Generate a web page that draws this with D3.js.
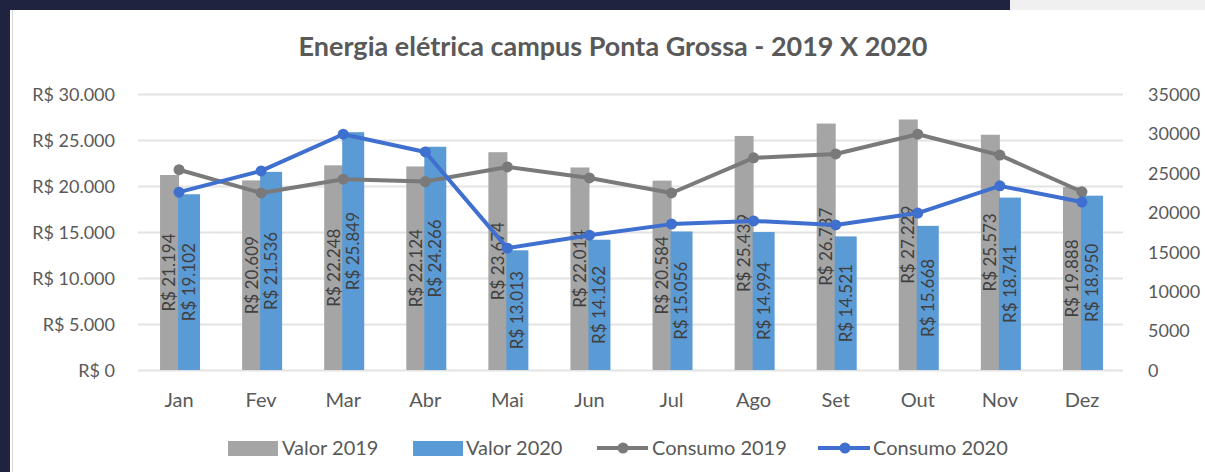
<!DOCTYPE html>
<html>
<head>
<meta charset="utf-8">
<script src="https://cdn.jsdelivr.net/npm/d3@7"></script>
<style>
  body { margin: 0; background: #fff; }
  text { font-family: Lato, "Open Sans", sans-serif; }
</style>
</head>
<body>
<div id="chart"></div>
<script>
let width = 1205,
    height = 472,
    margin = ({ top: 94, right: 82, bottom: 102, left: 138 });

const months = ["Jan", "Fev", "Mar", "Abr", "Mai", "Jun", "Jul", "Ago", "Set", "Out", "Nov", "Dez"];
const valor2019 = [21194, 20609, 22248, 22124, 23674, 22014, 20584, 25439, 26787, 27229, 25573, 19888];
const valor2020 = [19102, 21536, 25849, 24266, 13013, 14162, 15056, 14994, 14521, 15668, 18741, 18950];
const consumo2019 = [25400, 22450, 24200, 23900, 25750, 24350, 22450, 26900, 27400, 29900, 27250, 22600];
const consumo2020 = [22550, 25250, 29900, 27650, 15450, 17100, 18500, 18900, 18400, 19900, 23350, 21300];
const leftTicks = [0, 5000, 10000, 15000, 20000, 25000, 30000];
const rightTicks = [0, 5000, 10000, 15000, 20000, 25000, 30000, 35000];

const br = d3.formatLocale({ decimal: ",", thousands: ".", grouping: [3], currency: ["R$ ", ""] });
const fmtR = br.format("$,");

const svg = d3.select("#chart")
  .append("svg")
  .attr("width", width)
  .attr("height", height);

// page background around the chart
svg.append("rect").attr("width", width).attr("height", height).attr("fill", "#20233f");
svg.append("rect").attr("x", 1010).attr("y", 0).attr("width", 195).attr("height", 10).attr("fill", "#f0f0f0");
svg.append("rect").attr("x", 10).attr("y", 10).attr("width", 1195).attr("height", 462).attr("fill", "#fff");
svg.append("line").attr("x1", 12.5).attr("x2", 12.5).attr("y1", 10).attr("y2", 472).attr("stroke", "#d8d8d8");

const x = d3.scaleBand()
  .domain(months)
  .range([margin.left, width - margin.right]);

const y = d3.scaleLinear()
  .domain([0, 30000])
  .range([height - margin.bottom, margin.top]);

const y2 = d3.scaleLinear()
  .domain([0, 35000])
  .range([height - margin.bottom, margin.top]);

// grid
svg.append("g")
  .attr("class", "grid")
  .attr("transform", `translate(${margin.left},0)`)
  .call(d3.axisLeft(y).tickValues(leftTicks).tickSize(-(width - margin.left - margin.right)).tickFormat(""))
  .call(g => g.select(".domain").remove())
  .call(g => g.selectAll("line").attr("stroke", "#e3e3e3").attr("stroke-width", 2));

svg.append("g")
  .attr("transform", `translate(${margin.left - 20},0)`)
  .call(d3.axisLeft(y).tickValues(leftTicks).tickSize(0).tickFormat(fmtR))
  .call(g => g.select(".domain").remove())
  .call(g => g.selectAll("text").attr("fill", "#595959").style("font-size", "18px").attr("dy", "0.35em"));

svg.append("g")
  .attr("transform", `translate(${width - margin.right + 22},0)`)
  .call(d3.axisRight(y2).tickValues(rightTicks).tickSize(0).tickFormat(d3.format("d")))
  .call(g => g.select(".domain").remove())
  .call(g => g.selectAll("text").attr("fill", "#595959").style("font-size", "18px").attr("dy", "0.35em"));

svg.append("g")
  .attr("transform", `translate(0,${height - margin.bottom + 20})`)
  .call(d3.axisBottom(x).tickSize(0))
  .call(g => g.select(".domain").remove())
  .call(g => g.selectAll("text").attr("fill", "#595959").style("font-size", "20px"));

const data = months.map((m, i) => ({ m, v19: valor2019[i], v20: valor2020[i], c19: consumo2019[i], c20: consumo2020[i] }));
const c = d => x(d.m) + x.bandwidth() / 2;

// bars
svg.append("g").selectAll("rect")
  .data(data)
  .join("rect")
  .attr("x", d => c(d) - 19)
  .attr("width", 19)
  .attr("y", d => y(d.v19))
  .attr("height", d => y(0) - y(d.v19))
  .attr("fill", "#a5a5a5");

svg.append("g").selectAll("rect")
  .data(data)
  .join("rect")
  .attr("x", d => c(d) - 1)
  .attr("width", 22)
  .attr("y", d => y(d.v20))
  .attr("height", d => y(0) - y(d.v20))
  .attr("fill", "#5b9bd5");

// bar labels, rotated, centered in bar
svg.append("g").selectAll("text")
  .data(data)
  .join("text")
  .attr("transform", d => `translate(${c(d) - 9.5},${(y(d.v19) + y(0)) / 2}) rotate(-90)`)
  .attr("text-anchor", "middle")
  .attr("dy", "0.35em")
  .attr("fill", "#404040")
  .style("font-size", "17px")
  .text(d => fmtR(d.v19));

svg.append("g").selectAll("text")
  .data(data)
  .join("text")
  .attr("transform", d => `translate(${c(d) + 10},${(y(d.v20) + y(0)) / 2}) rotate(-90)`)
  .attr("text-anchor", "middle")
  .attr("dy", "0.35em")
  .attr("fill", "#404040")
  .style("font-size", "17px")
  .text(d => fmtR(d.v20));

// lines
const series = [
  { key: "c19", color: "#7a7a7a" },
  { key: "c20", color: "#3f6fcf" }
];
for (let s of series) {
  svg.append("path")
    .datum(data)
    .attr("fill", "none")
    .attr("stroke", s.color)
    .attr("stroke-width", 4)
    .attr("stroke-linejoin", "round")
    .attr("d", d3.line().x(c).y(d => y2(d[s.key])));
  svg.append("g").selectAll("circle")
    .data(data)
    .join("circle")
    .attr("cx", c)
    .attr("cy", d => y2(d[s.key]))
    .attr("r", 5.5)
    .attr("fill", s.color);
}

// title
svg.append("text")
  .attr("x", 613)
  .attr("y", 56)
  .attr("text-anchor", "middle")
  .attr("fill", "#595959")
  .style("font-size", "27px")
  .style("font-weight", "bold")
  .text("Energia elétrica campus Ponta Grossa - 2019 X 2020");

// legend
const legY = 448;
const leg = svg.append("g").style("font-size", "20px");
leg.append("rect").attr("x", 228).attr("y", legY - 7).attr("width", 50).attr("height", 15).attr("fill", "#a5a5a5");
leg.append("text").attr("x", 282).attr("y", legY).attr("dy", "0.35em").attr("fill", "#595959").text("Valor 2019");
leg.append("rect").attr("x", 413).attr("y", legY - 7).attr("width", 50).attr("height", 15).attr("fill", "#5b9bd5");
leg.append("text").attr("x", 466).attr("y", legY).attr("dy", "0.35em").attr("fill", "#595959").text("Valor 2020");
leg.append("line").attr("x1", 597).attr("x2", 648).attr("y1", legY).attr("y2", legY).attr("stroke", "#7a7a7a").attr("stroke-width", 4);
leg.append("circle").attr("cx", 623).attr("cy", legY).attr("r", 5.5).attr("fill", "#7a7a7a");
leg.append("text").attr("x", 652).attr("y", legY).attr("dy", "0.35em").attr("fill", "#595959").text("Consumo 2019");
leg.append("line").attr("x1", 818).attr("x2", 870).attr("y1", legY).attr("y2", legY).attr("stroke", "#3f6fcf").attr("stroke-width", 4);
leg.append("circle").attr("cx", 845).attr("cy", legY).attr("r", 5.5).attr("fill", "#3f6fcf");
leg.append("text").attr("x", 873).attr("y", legY).attr("dy", "0.35em").attr("fill", "#595959").text("Consumo 2020");
</script>
</body>
</html>
